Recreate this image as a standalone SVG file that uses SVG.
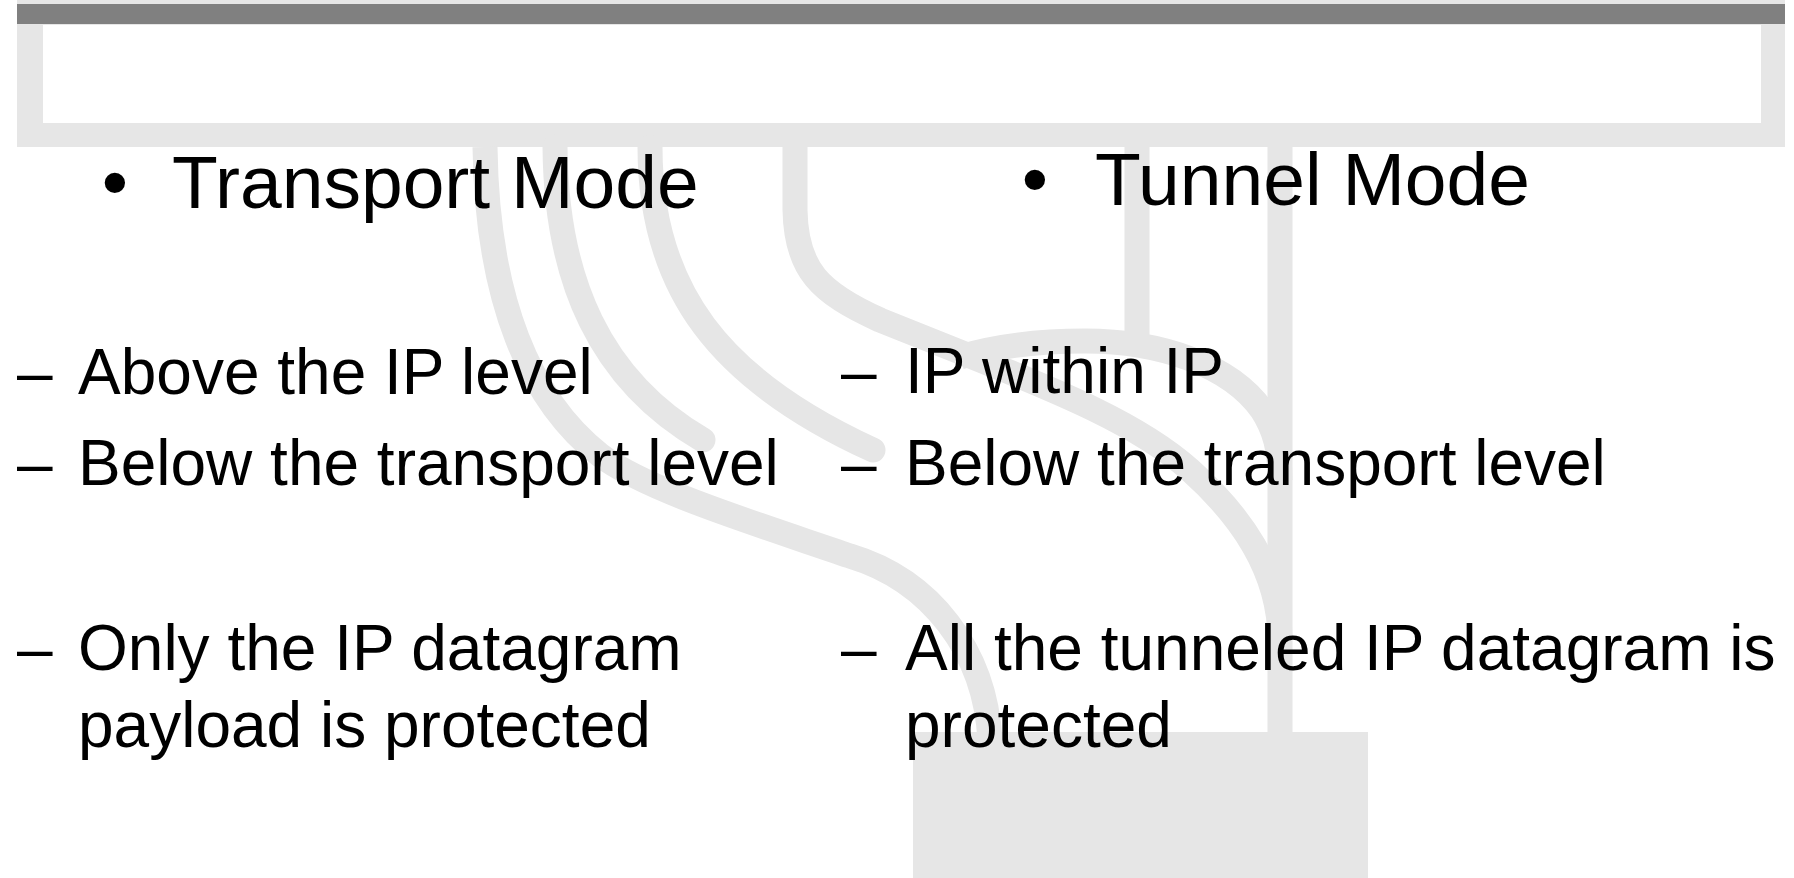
<svg xmlns="http://www.w3.org/2000/svg" width="1794" height="878" viewBox="0 0 1794 878">
  <style>
    .band { fill: none; stroke: #e6e6e6; stroke-width: 25; }
    .round { stroke-linecap: round; }
    .panel { fill: #e6e6e6; }
    .head { font-family: "Liberation Sans", Arial, sans-serif; font-size: 75px; fill: #000; }
    .item { font-family: "Liberation Sans", Arial, sans-serif; font-size: 64px; fill: #000; }
  </style>

  <rect width="1794" height="878" fill="#ffffff"/>

  <!-- title frame -->
  <g id="title-frame">
    <rect class="panel" x="17" y="0" width="1768" height="147"/>
    <rect x="43" y="25" width="1718" height="98" fill="#ffffff"/>
    <rect x="17" y="4" width="1768" height="20" fill="#808080"/>
  </g>

  <!-- decorative branching lines -->
  <g id="connectors">
    <path class="band" d="M485,147 C487,300 530,400 600,455 C645,490 760,525 850,556 C930,580 985,650 990,740"/>
    <path class="band round" d="M555,147 C556,280 600,380 703,440"/>
    <path class="band round" d="M650,147 C650,290 720,380 873,450"/>
    <path class="band" d="M795,147 L795,210 C796,270 820,293 880,320 L960,352 C1060,392 1140,425 1190,470 C1240,515 1280,570 1280,640"/>
    <path class="band" d="M960,357 C1000,345 1040,341 1085,341 C1160,341 1230,365 1262,410 C1275,430 1280,450 1280,480"/>
    <path class="band" d="M1137,147 L1137,340"/>
    <path class="band" d="M1280,147 L1280,740"/>
  </g>

  <!-- footer block -->
  <g id="footer-block">
    <rect class="panel" x="913" y="732" width="455" height="146"/>
  </g>

  <!-- left column -->
  <g id="transport-mode">
    <text class="head" x="115" y="208" text-anchor="middle">•</text>
    <text class="head" x="172" y="208">Transport Mode</text>
    <text class="item" x="17" y="394">–</text>
    <text class="item" x="78" y="394">Above the IP level</text>
    <text class="item" x="17" y="485">–</text>
    <text class="item" x="78" y="485">Below the transport level</text>
    <text class="item" x="17" y="670">–</text>
    <text class="item" x="78" y="670">Only the IP datagram</text>
    <text class="item" x="78" y="747">payload is protected</text>
  </g>

  <!-- right column -->
  <g id="tunnel-mode">
    <text class="head" x="1035" y="205" text-anchor="middle">•</text>
    <text class="head" x="1095" y="205">Tunnel Mode</text>
    <text class="item" x="841" y="393">–</text>
    <text class="item" x="905" y="393">IP within IP</text>
    <text class="item" x="841" y="485">–</text>
    <text class="item" x="905" y="485">Below the transport level</text>
    <text class="item" x="841" y="670">–</text>
    <text class="item" x="905" y="670">All the tunneled IP datagram is</text>
    <text class="item" x="905" y="747">protected</text>
  </g>
</svg>
